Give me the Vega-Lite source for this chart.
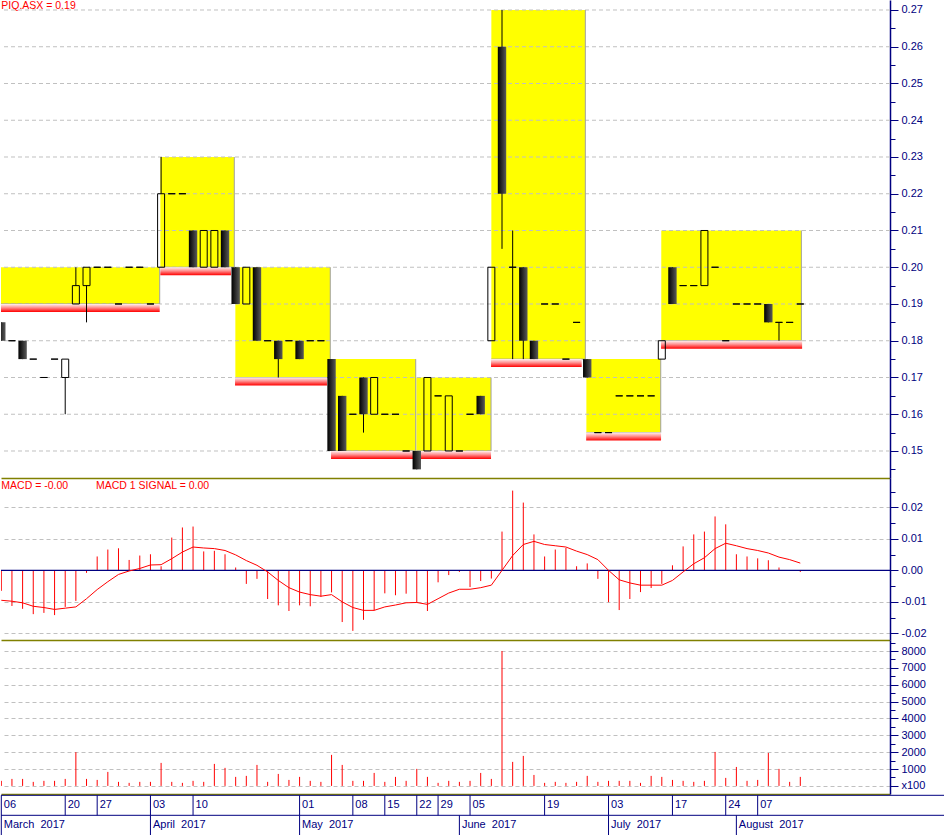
{
  "$schema": "https://vega.github.io/schema/vega-lite/v6.json",
  "padding": 0,
  "background": "white",
  "bounds": "flush",
  "spacing": 0,
  "resolve": {"scale": {"x": "independent", "y": "independent"}},
  "config": {
    "view": {"stroke": null},
    "font": "Liberation Sans",
    "axisX": {"domainColor": "#808000", "domainWidth": 1.5, "labels": false, "ticks": false, "grid": false},
    "axisY": {"domainColor": "#000080", "domainWidth": 1.5, "tickColor": "#000080", "tickWidth": 1, "labelColor": "#000080", "labelFont": "Liberation Sans", "labelFontSize": 11, "labelPadding": 3, "labelOverlap": false, "gridColor": "#c0c0c0", "gridDash": [4, 3], "gridWidth": 1}
  },
  "datasets": {
    "bars": [
      {"i":0,"o":0.185,"h":0.185,"l":0.18,"c":0.18,"m":-0.0065,"s":-0.0095,"v":300},
      {"i":1,"o":0.18,"h":0.18,"l":0.18,"c":0.18,"m":-0.0113,"s":-0.0098,"v":415},
      {"i":2,"o":0.18,"h":0.18,"l":0.175,"c":0.175,"m":-0.0122,"s":-0.0103,"v":415},
      {"i":3,"o":0.175,"h":0.175,"l":0.175,"c":0.175,"m":-0.0139,"s":-0.0114,"v":240},
      {"i":4,"o":0.17,"h":0.17,"l":0.17,"c":0.17,"m":-0.0135,"s":-0.0118,"v":300},
      {"i":5,"o":0.175,"h":0.175,"l":0.175,"c":0.175,"m":-0.0142,"s":-0.0124,"v":300},
      {"i":6,"o":0.17,"h":0.175,"l":0.16,"c":0.175,"m":-0.0116,"s":-0.0120,"v":415},
      {"i":7,"o":0.19,"h":0.20,"l":0.19,"c":0.195,"m":-0.0097,"s":-0.0116,"v":2000},
      {"i":8,"o":0.195,"h":0.20,"l":0.185,"c":0.20,"m":-0.0008,"s":-0.0090,"v":415},
      {"i":9,"o":0.20,"h":0.20,"l":0.20,"c":0.20,"m":0.0044,"s":-0.0061,"v":355},
      {"i":10,"o":0.20,"h":0.20,"l":0.20,"c":0.20,"m":0.0066,"s":-0.0036,"v":830},
      {"i":11,"o":0.19,"h":0.19,"l":0.19,"c":0.19,"m":0.0070,"s":-0.0013,"v":240},
      {"i":12,"o":0.20,"h":0.20,"l":0.20,"c":0.20,"m":0.0033,"s":-0.0002,"v":180},
      {"i":13,"o":0.20,"h":0.20,"l":0.20,"c":0.20,"m":0.0047,"s":0.0006,"v":240},
      {"i":14,"o":0.19,"h":0.19,"l":0.19,"c":0.19,"m":0.0051,"s":0.0017,"v":240},
      {"i":15,"o":0.20,"h":0.23,"l":0.20,"c":0.22,"m":0.0013,"s":0.0018,"v":1365},
      {"i":16,"o":0.22,"h":0.22,"l":0.22,"c":0.22,"m":0.0104,"s":0.0037,"v":240},
      {"i":17,"o":0.22,"h":0.22,"l":0.22,"c":0.22,"m":0.0136,"s":0.0058,"v":180},
      {"i":18,"o":0.21,"h":0.21,"l":0.20,"c":0.20,"m":0.0139,"s":0.0074,"v":300},
      {"i":19,"o":0.20,"h":0.21,"l":0.20,"c":0.21,"m":0.0060,"s":0.0071,"v":240},
      {"i":20,"o":0.20,"h":0.21,"l":0.20,"c":0.21,"m":0.0062,"s":0.0069,"v":1305},
      {"i":21,"o":0.21,"h":0.21,"l":0.20,"c":0.20,"m":0.0051,"s":0.0063,"v":1070},
      {"i":22,"o":0.20,"h":0.20,"l":0.19,"c":0.19,"m":0.0009,"s":0.0049,"v":535},
      {"i":23,"o":0.19,"h":0.20,"l":0.19,"c":0.20,"m":-0.0043,"s":0.0031,"v":595},
      {"i":24,"o":0.20,"h":0.20,"l":0.18,"c":0.18,"m":-0.0027,"s":0.0016,"v":1245},
      {"i":25,"o":0.18,"h":0.18,"l":0.18,"c":0.18,"m":-0.0091,"s":-0.0005,"v":240},
      {"i":26,"o":0.18,"h":0.18,"l":0.17,"c":0.175,"m":-0.0111,"s":-0.0032,"v":710},
      {"i":27,"o":0.18,"h":0.18,"l":0.18,"c":0.18,"m":-0.0129,"s":-0.0055,"v":355},
      {"i":28,"o":0.18,"h":0.18,"l":0.175,"c":0.175,"m":-0.0111,"s":-0.0069,"v":535},
      {"i":29,"o":0.18,"h":0.18,"l":0.18,"c":0.18,"m":-0.0114,"s":-0.0077,"v":300},
      {"i":30,"o":0.18,"h":0.18,"l":0.18,"c":0.18,"m":-0.0084,"s":-0.0082,"v":240},
      {"i":31,"o":0.175,"h":0.175,"l":0.15,"c":0.15,"m":-0.0070,"s":-0.0077,"v":1840},
      {"i":32,"o":0.165,"h":0.165,"l":0.15,"c":0.15,"m":-0.0164,"s":-0.0100,"v":1245},
      {"i":33,"o":0.16,"h":0.16,"l":0.16,"c":0.16,"m":-0.0192,"s":-0.0118,"v":300},
      {"i":34,"o":0.17,"h":0.17,"l":0.155,"c":0.16,"m":-0.0157,"s":-0.0127,"v":300},
      {"i":35,"o":0.16,"h":0.17,"l":0.16,"c":0.17,"m":-0.0127,"s":-0.0127,"v":770},
      {"i":36,"o":0.16,"h":0.16,"l":0.16,"c":0.16,"m":-0.0073,"s":-0.0116,"v":240},
      {"i":37,"o":0.16,"h":0.16,"l":0.16,"c":0.16,"m":-0.0079,"s":-0.0110,"v":535},
      {"i":38,"o":0.15,"h":0.15,"l":0.15,"c":0.15,"m":-0.0074,"s":-0.0103,"v":300},
      {"i":39,"o":0.15,"h":0.15,"l":0.145,"c":0.145,"m":-0.0103,"s":-0.0102,"v":1010},
      {"i":40,"o":0.15,"h":0.17,"l":0.15,"c":0.17,"m":-0.0129,"s":-0.0108,"v":535},
      {"i":41,"o":0.165,"h":0.165,"l":0.165,"c":0.165,"m":-0.0038,"s":-0.0090,"v":180},
      {"i":42,"o":0.15,"h":0.165,"l":0.15,"c":0.165,"m":-0.0015,"s":-0.0072,"v":300},
      {"i":43,"o":0.15,"h":0.15,"l":0.15,"c":0.15,"m":-0.0005,"s":-0.0060,"v":240},
      {"i":44,"o":0.16,"h":0.16,"l":0.16,"c":0.16,"m":-0.0053,"s":-0.0060,"v":300},
      {"i":45,"o":0.165,"h":0.165,"l":0.16,"c":0.16,"m":-0.0034,"s":-0.0055,"v":770},
      {"i":46,"o":0.18,"h":0.20,"l":0.18,"c":0.20,"m":-0.0026,"s":-0.0047,"v":415},
      {"i":47,"o":0.26,"h":0.27,"l":0.205,"c":0.22,"m":0.0123,"s":0.0000,"v":8000},
      {"i":48,"o":0.20,"h":0.21,"l":0.175,"c":0.20,"m":0.0253,"s":0.0047,"v":1425},
      {"i":49,"o":0.20,"h":0.20,"l":0.175,"c":0.18,"m":0.0215,"s":0.0082,"v":1780},
      {"i":50,"o":0.18,"h":0.18,"l":0.175,"c":0.175,"m":0.0114,"s":0.0092,"v":650},
      {"i":51,"o":0.19,"h":0.19,"l":0.19,"c":0.19,"m":0.0044,"s":0.0082,"v":180},
      {"i":52,"o":0.19,"h":0.19,"l":0.19,"c":0.19,"m":0.0066,"s":0.0078,"v":240},
      {"i":53,"o":0.175,"h":0.175,"l":0.175,"c":0.175,"m":0.0071,"s":0.0074,"v":180},
      {"i":54,"o":0.185,"h":0.185,"l":0.185,"c":0.185,"m":0.0013,"s":0.0061,"v":240},
      {"i":55,"o":0.175,"h":0.175,"l":0.17,"c":0.17,"m":0.0022,"s":0.0050,"v":595},
      {"i":56,"o":0.155,"h":0.155,"l":0.155,"c":0.155,"m":-0.0027,"s":0.0034,"v":240},
      {"i":57,"o":0.155,"h":0.155,"l":0.155,"c":0.155,"m":-0.0101,"s":0.0000,"v":300},
      {"i":58,"o":0.165,"h":0.165,"l":0.165,"c":0.165,"m":-0.0126,"s":-0.0030,"v":300},
      {"i":59,"o":0.165,"h":0.165,"l":0.165,"c":0.165,"m":-0.0091,"s":-0.0040,"v":300},
      {"i":60,"o":0.165,"h":0.165,"l":0.165,"c":0.165,"m":-0.0069,"s":-0.0047,"v":180},
      {"i":61,"o":0.165,"h":0.165,"l":0.165,"c":0.165,"m":-0.0056,"s":-0.0047,"v":595},
      {"i":62,"o":0.175,"h":0.18,"l":0.175,"c":0.18,"m":-0.0043,"s":-0.0047,"v":535},
      {"i":63,"o":0.20,"h":0.20,"l":0.19,"c":0.19,"m":0.0016,"s":-0.0032,"v":355},
      {"i":64,"o":0.195,"h":0.195,"l":0.195,"c":0.195,"m":0.0076,"s":-0.0005,"v":300},
      {"i":65,"o":0.195,"h":0.195,"l":0.195,"c":0.195,"m":0.0114,"s":0.0021,"v":240},
      {"i":66,"o":0.195,"h":0.21,"l":0.195,"c":0.21,"m":0.0123,"s":0.0040,"v":300},
      {"i":67,"o":0.20,"h":0.20,"l":0.20,"c":0.20,"m":0.0171,"s":0.0069,"v":2015},
      {"i":68,"o":0.18,"h":0.18,"l":0.18,"c":0.18,"m":0.0146,"s":0.0086,"v":475},
      {"i":69,"o":0.19,"h":0.19,"l":0.19,"c":0.19,"m":0.0051,"s":0.0078,"v":1125},
      {"i":70,"o":0.19,"h":0.19,"l":0.19,"c":0.19,"m":0.0044,"s":0.0069,"v":300},
      {"i":71,"o":0.19,"h":0.19,"l":0.19,"c":0.19,"m":0.0038,"s":0.0063,"v":355},
      {"i":72,"o":0.19,"h":0.19,"l":0.185,"c":0.185,"m":0.0032,"s":0.0055,"v":1955},
      {"i":73,"o":0.185,"h":0.185,"l":0.18,"c":0.185,"m":0.0009,"s":0.0042,"v":1010},
      {"i":74,"o":0.185,"h":0.185,"l":0.185,"c":0.185,"m":0.0000,"s":0.0034,"v":240},
      {"i":75,"o":0.19,"h":0.19,"l":0.19,"c":0.19,"m":-0.0005,"s":0.0023,"v":535}
    ],
    "boxes": [
      {"x1":-0.03,"x2":14.87,"top":0.20,"bot":0.19},
      {"x1":14.93,"x2":21.87,"top":0.23,"bot":0.20},
      {"x1":21.97,"x2":30.88,"top":0.20,"bot":0.17},
      {"x1":30.95,"x2":38.9,"top":0.175,"bot":0.15},
      {"x1":38.96,"x2":45.97,"top":0.17,"bot":0.15},
      {"x1":46.0,"x2":54.82,"top":0.27,"bot":0.175},
      {"x1":54.92,"x2":61.9,"top":0.175,"bot":0.155},
      {"x1":61.95,"x2":75.1,"top":0.21,"bot":0.18}
    ],
    "rbars": [
      {"x1":-0.03,"x2":14.87,"y":0.19},
      {"x1":14.93,"x2":21.56,"y":0.20},
      {"x1":21.94,"x2":30.57,"y":0.17},
      {"x1":30.95,"x2":45.97,"y":0.15},
      {"x1":45.97,"x2":54.48,"y":0.175},
      {"x1":54.9,"x2":61.93,"y":0.155},
      {"x1":61.93,"x2":75.17,"y":0.18}
    ],
    "pgrid": [
      {"g":0.15},{"g":0.16},{"g":0.17},{"g":0.18},{"g":0.19},{"g":0.20},{"g":0.21},
      {"g":0.22},{"g":0.23},{"g":0.24},{"g":0.25},{"g":0.26},{"g":0.27}
    ],
    "days": [
      {"i":0,"t":"06"},{"i":6,"t":"20"},{"i":9,"t":"27"},{"i":14,"t":"03"},{"i":18,"t":"10"},
      {"i":28,"t":"01"},{"i":33,"t":"08"},{"i":36,"t":"15"},{"i":39,"t":"22"},{"i":41,"t":"29"},
      {"i":44,"t":"05"},{"i":51,"t":"19"},{"i":57,"t":"03"},{"i":63,"t":"17"},{"i":68,"t":"24"},{"i":71,"t":"07"}
    ],
    "months": [
      {"i":0,"t":"March\u00a0 2017"},{"i":14,"t":"April\u00a0 2017"},{"i":28,"t":"May\u00a0 2017"},
      {"i":43,"t":"June\u00a0 2017"},{"i":57,"t":"July\u00a0 2017"},{"i":69,"t":"August\u00a0 2017"}
    ]
  },
  "vconcat": [
    {
      "width": 889,
      "height": 478,
      "layer": [
        {
          "data": {"name": "boxes"},
          "mark": {"type": "rect", "fill": "#ffff00", "clip": true},
          "encoding": {
            "x": {"field": "x1", "type": "quantitative", "scale": {"domain": [-0.028, 83.42], "nice": false, "zero": false}, "axis": {"title": null}},
            "x2": {"field": "x2"},
            "y": {"field": "top", "type": "quantitative", "scale": {"domain": [0.14265, 0.27272], "nice": false, "zero": false},
              "axis": {"orient": "right", "title": null, "grid": false, "tickCount": 200,
                "values": [0.145,0.15,0.155,0.16,0.165,0.17,0.175,0.18,0.185,0.19,0.195,0.2,0.205,0.21,0.215,0.22,0.225,0.23,0.235,0.24,0.245,0.25,0.255,0.26,0.265,0.27],
                "labelExpr": "abs(round(datum.value*1000)) % 10 == 0 ? format(datum.value, '.2f') : ''",
                "tickSize": {"condition": {"test": "abs(round(datum.value*1000)) % 10 == 0", "value": 8}, "value": 5}}},
            "y2": {"field": "bot"}
          }
        },
        {
          "data": {"name": "pgrid"},
          "mark": {"type": "rule", "color": "#c0c0c0", "strokeWidth": 1, "strokeDash": [4, 3]},
          "encoding": {"y": {"field": "g", "type": "quantitative"}}
        },
        {
          "data": {"name": "boxes"},
          "mark": {"type": "rule", "color": "#a0a0a0", "strokeWidth": 1, "clip": true},
          "encoding": {"x": {"field": "x2", "type": "quantitative"}, "y": {"field": "top", "type": "quantitative"}, "y2": {"field": "bot"}}
        },
        {
          "data": {"name": "boxes"},
          "mark": {"type": "rule", "color": "#a0a0a0", "strokeWidth": 1, "clip": true},
          "encoding": {"x": {"field": "x1", "type": "quantitative"}, "x2": {"field": "x2"}, "y": {"field": "bot", "type": "quantitative"}}
        },
        {
          "data": {"name": "rbars"},
          "mark": {"type": "rect", "y2Offset": 8, "clip": true,
            "fill": {"gradient": "linear", "x1": 0, "y1": 0, "x2": 0, "y2": 1,
              "stops": [{"offset": 0, "color": "#fff0f0"}, {"offset": 0.45, "color": "#ff9090"}, {"offset": 1, "color": "#ff0000"}]}},
          "encoding": {"x": {"field": "x1", "type": "quantitative"}, "x2": {"field": "x2"}, "y": {"field": "y", "type": "quantitative"}, "y2": {"field": "y"}}
        },
        {
          "data": {"name": "bars"},
          "transform": [{"filter": "datum.c < datum.o"}],
          "mark": {"type": "rule", "color": "#000000", "strokeWidth": 1, "clip": true},
          "encoding": {"x": {"field": "i", "type": "quantitative"}, "y": {"field": "l", "type": "quantitative"}, "y2": {"field": "h"}}
        },
        {
          "data": {"name": "bars"},
          "transform": [{"filter": "datum.c < datum.o"}],
          "mark": {"type": "rect", "xOffset": -4.2, "x2Offset": 4.2, "clip": true,
            "fill": {"gradient": "linear", "x1": 0, "y1": 0, "x2": 1, "y2": 0,
              "stops": [{"offset": 0, "color": "#000000"}, {"offset": 1, "color": "#5a5a5a"}]}},
          "encoding": {"x": {"field": "i", "type": "quantitative"}, "x2": {"field": "i"}, "y": {"field": "o", "type": "quantitative"}, "y2": {"field": "c"}}
        },
        {
          "data": {"name": "bars"},
          "transform": [{"filter": "datum.c >= datum.o"}],
          "mark": {"type": "rule", "color": "#000000", "strokeWidth": 1, "clip": true},
          "encoding": {"x": {"field": "i", "type": "quantitative"}, "y": {"field": "c", "type": "quantitative"}, "y2": {"field": "h"}}
        },
        {
          "data": {"name": "bars"},
          "transform": [{"filter": "datum.c >= datum.o"}],
          "mark": {"type": "rule", "color": "#000000", "strokeWidth": 1, "clip": true},
          "encoding": {"x": {"field": "i", "type": "quantitative"}, "y": {"field": "l", "type": "quantitative"}, "y2": {"field": "o"}}
        },
        {
          "data": {"name": "bars"},
          "transform": [{"filter": "datum.c >= datum.o"}],
          "mark": {"type": "rect", "xOffset": -3.5, "x2Offset": 3.5, "fill": "transparent", "stroke": "#000000", "strokeWidth": 1, "clip": true},
          "encoding": {"x": {"field": "i", "type": "quantitative"}, "x2": {"field": "i"}, "y": {"field": "o", "type": "quantitative"}, "y2": {"field": "c"}}
        },
        {
          "data": {"values": [{}]},
          "mark": {"type": "text", "text": "PIQ.ASX = 0.19", "align": "left", "baseline": "top", "fill": "#ff0000", "font": "Liberation Sans", "fontSize": 10.5, "dy": 1},
          "encoding": {"x": {"datum": 0}, "y": {"datum": 0.27272}}
        }
      ]
    },
    {
      "width": 889,
      "height": 162,
      "layer": [
        {
          "data": {"name": "bars"},
          "mark": {"type": "rule", "color": "#ff0000", "strokeWidth": 1, "clip": true},
          "encoding": {
            "x": {"field": "i", "type": "quantitative", "scale": {"domain": [-0.028, 83.42], "nice": false, "zero": false}, "axis": {"title": null}},
            "y": {"field": "m", "type": "quantitative", "scale": {"domain": [-0.0221, 0.0293], "nice": false, "zero": false},
              "axis": {"orient": "right", "title": null, "grid": true, "tickCount": 200,
                "values": [-0.02,-0.015,-0.01,-0.005,0,0.005,0.01,0.015,0.02,0.025],
                "labelExpr": "abs(round(datum.value*1000)) % 10 == 0 ? (datum.value < 0 ? '-' : '') + format(abs(datum.value), '.2f') : ''",
                "tickSize": {"condition": {"test": "abs(round(datum.value*1000)) % 10 == 0", "value": 8}, "value": 5},
                "gridOpacity": {"condition": {"test": "abs(round(datum.value*1000)) % 10 == 0", "value": 1}, "value": 0}}},
            "y2": {"datum": 0}
          }
        },
        {
          "data": {"values": [{}]},
          "mark": {"type": "rule", "color": "#000080", "strokeWidth": 1.2},
          "encoding": {"y": {"datum": 0}}
        },
        {
          "data": {"name": "bars"},
          "mark": {"type": "line", "color": "#ff0000", "strokeWidth": 1, "clip": true},
          "encoding": {"x": {"field": "i", "type": "quantitative"}, "y": {"field": "s", "type": "quantitative"}}
        },
        {
          "data": {"values": [{}]},
          "mark": {"type": "text", "text": "MACD = -0.00", "align": "left", "baseline": "top", "fill": "#ff0000", "font": "Liberation Sans", "fontSize": 10.5, "dy": 2.5},
          "encoding": {"x": {"datum": 0}, "y": {"datum": 0.0293}}
        },
        {
          "data": {"values": [{}]},
          "mark": {"type": "text", "text": "MACD 1 SIGNAL = 0.00", "align": "left", "baseline": "top", "fill": "#ff0000", "font": "Liberation Sans", "fontSize": 10.5, "dy": 2.5},
          "encoding": {"x": {"datum": 8.89}, "y": {"datum": 0.0293}}
        }
      ]
    },
    {
      "width": 889,
      "height": 154,
      "layer": [
        {
          "data": {"name": "bars"},
          "mark": {"type": "rule", "color": "#ff0000", "strokeWidth": 1, "clip": true},
          "encoding": {
            "x": {"field": "i", "type": "quantitative", "scale": {"domain": [-0.028, 83.42], "nice": false, "zero": false}, "axis": {"title": null}},
            "y": {"field": "v", "type": "quantitative", "scale": {"domain": [-480, 8654], "nice": false, "zero": false},
              "axis": {"orient": "right", "title": null, "grid": true, "tickCount": 200,
                "values": [0,500,1000,1500,2000,2500,3000,3500,4000,4500,5000,5500,6000,6500,7000,7500,8000,8500],
                "labelExpr": "datum.value == 0 ? 'x100' : (datum.value % 1000 == 0 ? format(datum.value, 'd') : '')",
                "tickSize": {"condition": {"test": "datum.value % 1000 == 0", "value": 8}, "value": 5},
                "gridOpacity": {"condition": {"test": "datum.value % 1000 == 0", "value": 1}, "value": 0}}},
            "y2": {"datum": 0}
          }
        }
      ]
    },
    {
      "width": 944,
      "height": 41,
      "layer": [
        {
          "data": {"values": [{"r": 0}, {"r": 1}]},
          "mark": {"type": "rule", "color": "#000080", "strokeWidth": 1},
          "encoding": {"y": {"field": "r", "type": "quantitative", "scale": {"domain": [-0.065, 1.985], "reverse": true, "nice": false, "zero": false}, "axis": null}}
        },
        {
          "data": {"name": "days"},
          "mark": {"type": "rule", "color": "#000080", "strokeWidth": 1},
          "encoding": {
            "x": {"field": "i", "type": "quantitative", "scale": {"domain": [-0.028, 88.585], "nice": false, "zero": false}, "axis": null},
            "y": {"datum": 0, "type": "quantitative", "axis": null},
            "y2": {"datum": 1}
          }
        },
        {
          "data": {"name": "months"},
          "mark": {"type": "rule", "color": "#000080", "strokeWidth": 1},
          "encoding": {
            "x": {"field": "i", "type": "quantitative", "axis": null},
            "y": {"datum": 1, "type": "quantitative", "axis": null},
            "y2": {"datum": 2}
          }
        },
        {
          "data": {"name": "days"},
          "mark": {"type": "text", "align": "left", "baseline": "middle", "dx": 2.5, "fill": "#000080", "font": "Liberation Sans", "fontSize": 11},
          "encoding": {
            "x": {"field": "i", "type": "quantitative", "axis": null},
            "y": {"datum": 0.5, "type": "quantitative", "axis": null},
            "text": {"field": "t"}
          }
        },
        {
          "data": {"name": "months"},
          "mark": {"type": "text", "align": "left", "baseline": "middle", "dx": 2.5, "fill": "#000080", "font": "Liberation Sans", "fontSize": 11},
          "encoding": {
            "x": {"field": "i", "type": "quantitative", "axis": null},
            "y": {"datum": 1.5, "type": "quantitative", "axis": null},
            "text": {"field": "t"}
          }
        }
      ]
    }
  ]
}
